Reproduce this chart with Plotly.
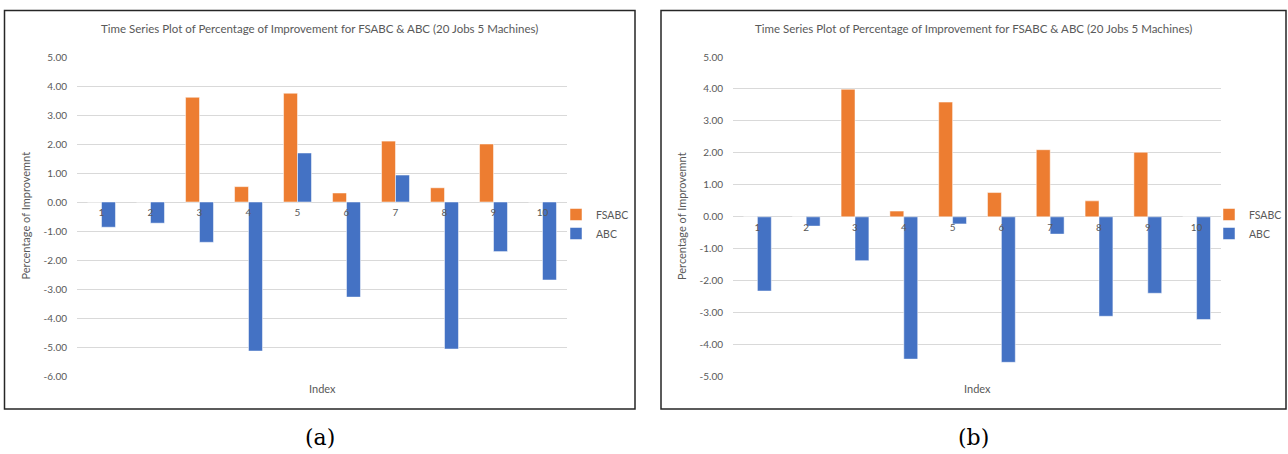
import plotly.graph_objects as go

# ---------------- data ----------------
index = [1, 2, 3, 4, 5, 6, 7, 8, 9, 10]
fsabc_a = [0.00, 0.00, 3.61, 0.53, 3.75, 0.31, 2.10, 0.49, 2.00, 0.00]
abc_a = [-0.87, -0.73, -1.39, -5.14, 1.69, -3.28, 0.93, -5.07, -1.71, -2.69]
fsabc_b = [0.00, 0.00, 3.99, 0.18, 3.59, 0.76, 2.10, 0.50, 2.02, 0.00]
abc_b = [-2.32, -0.29, -1.37, -4.45, -0.22, -4.55, -0.54, -3.11, -2.39, -3.21]
yticks_a = [5, 4, 3, 2, 1, 0, -1, -2, -3, -4, -5, -6]
yticks_b = [5, 4, 3, 2, 1, 0, -1, -2, -3, -4, -5]

title_text = "Time Series Plot of Percentage of Improvement for FSABC & ABC (20 Jobs 5 Machines)"
ytitle = "Percentage of Improvemnt"
xtitle = "Index"

W, H = 1288, 454
ORANGE = "#ED7D31"
BLUE = "#4472C4"
GRID = "#D9D9D9"
TXT = "#595959"
FONT = "Lato, 'Open Sans', sans-serif"


def fx(px):
    return px / W


def fy(py):
    return 1 - py / H


panels = [
    dict(fs=fsabc_a, ab=abc_a, ticks=yticks_a, rng=[-6, 5],
         px=(77, 567), py=(57, 376), box=(4.5, 10.5, 635, 409),
         cap="(a)", legend="legend", leg_x=556),
    dict(fs=fsabc_b, ab=abc_b, ticks=yticks_b, rng=[-5, 5],
         px=(733, 1221), py=(57, 376.7), box=(661, 10.5, 1286, 409),
         cap="(b)", legend="legend2", leg_x=1209),
]

fig = go.Figure()
layout = dict(
    width=W, height=H,
    margin=dict(l=0, r=0, t=0, b=0, pad=0, autoexpand=False),
    paper_bgcolor="white", plot_bgcolor="white",
    barmode="group", bargap=0.43, bargroupgap=0,
    font=dict(family=FONT, color=TXT, size=10),
    shapes=[], annotations=[],
)

for i, p in enumerate(panels):
    sfx = "" if i == 0 else str(i + 1)
    xa, ya = "x" + sfx, "y" + sfx
    fig.add_trace(go.Bar(x=index, y=p["fs"], name="FSABC", marker_color=ORANGE,
                         marker_line=dict(color="white", width=0.5),
                         xaxis=xa, yaxis=ya, legend=p["legend"]))
    fig.add_trace(go.Bar(x=index, y=p["ab"], name="ABC", marker_color=BLUE,
                         marker_line=dict(color="white", width=0.5),
                         xaxis=xa, yaxis=ya, legend=p["legend"]))
    ydom = [fy(p["py"][1]), fy(p["py"][0])]
    lo, hi = p["rng"]
    zero_pos = ydom[0] + (0 - lo) / (hi - lo) * (ydom[1] - ydom[0])
    layout["xaxis" + sfx] = dict(
        domain=[fx(p["px"][0]), fx(p["px"][1])], range=[0.5, 10.5],
        tickvals=index, ticktext=[str(v) for v in index],
        anchor="free", position=zero_pos, showline=False, showgrid=False,
        zeroline=False, ticks="", tickfont=dict(size=10, color=TXT),
        ticklabelstandoff=3, fixedrange=True, automargin=False,
    )
    layout["yaxis" + sfx] = dict(
        domain=ydom, range=p["rng"], tickvals=p["ticks"],
        ticktext=["%.2f" % v for v in p["ticks"]],
        anchor=xa, showgrid=True, gridcolor=GRID, gridwidth=1,
        zeroline=True, zerolinecolor=GRID, zerolinewidth=1,
        showline=False, ticks="", tickfont=dict(size=10, color=TXT),
        ticklabelstandoff=9, automargin=False,
    )
    layout[p["legend"]] = dict(
        x=fx(p["leg_x"]), y=fy(200), xanchor="left", yanchor="top",
        font=dict(size=10.5, color=TXT), bgcolor="rgba(0,0,0,0)",
        itemwidth=30, tracegroupgap=0, traceorder="normal",
    )
    x0, y0, x1, y1 = p["box"]
    layout["shapes"].append(dict(type="rect", xref="paper", yref="paper",
                                 x0=fx(x0), x1=fx(x1), y0=fy(y1), y1=fy(y0),
                                 line=dict(color="#262626", width=1.5)))
    cx = (x0 + x1) / 2
    layout["annotations"] += [
        dict(text=title_text, xref="paper", yref="paper", x=fx(cx), y=fy(29),
             xanchor="center", yanchor="middle", showarrow=False,
             font=dict(size=11.5, color=TXT, family=FONT)),
        dict(text=ytitle, xref="paper", yref="paper", x=fx(x0 + 21), y=fy(216),
             xanchor="center", yanchor="middle", textangle=-90, showarrow=False,
             font=dict(size=11, color=TXT, family=FONT)),
        dict(text=xtitle, xref="paper", yref="paper",
             x=fx((p["px"][0] + p["px"][1]) / 2), y=fy(388),
             xanchor="center", yanchor="middle", showarrow=False,
             font=dict(size=11, color=TXT, family=FONT)),
        dict(text=p["cap"], xref="paper", yref="paper", x=fx(cx), y=fy(437),
             xanchor="center", yanchor="middle", showarrow=False,
             font=dict(size=22, color="#000000", family="'DejaVu Serif', serif")),
    ]

fig.update_layout(**layout)
fig.write_html(
    "out.html",
    config={"displayModeBar": False},
    post_script="document.body.style.margin='0';document.body.style.overflow='hidden';",
)
